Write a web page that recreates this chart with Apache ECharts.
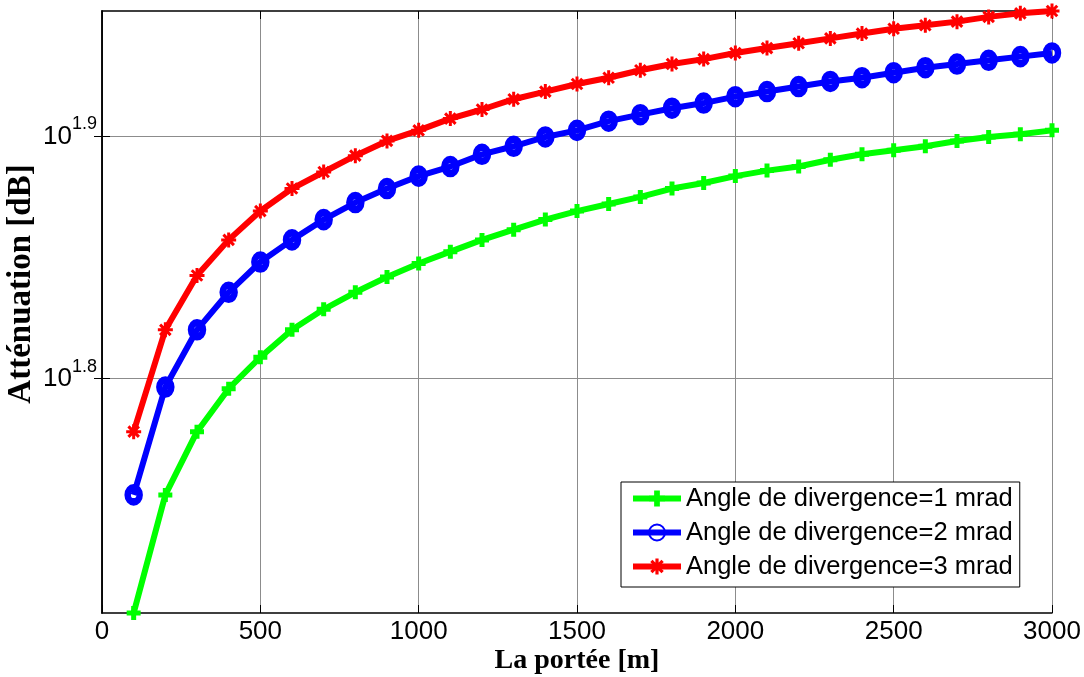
<!DOCTYPE html>
<html>
<head>
<meta charset="utf-8">
<script src="https://cdn.jsdelivr.net/npm/echarts@6/dist/echarts.min.js"></script>
<style>
  html, body { margin: 0; padding: 0; background: #fff; }
  #chart { width: 1084px; height: 677px; }
</style>
</head>
<body>
<div id="chart"></div>
<script>
// Distance (m)
const distances = [100,200,300,400,500,600,700,800,900,1000,1100,1200,1300,1400,1500,
                   1600,1700,1800,1900,2000,2100,2200,2300,2400,2500,2600,2700,2800,2900,3000];
// Attenuation (dB)
const att1mrad = [50.5,56.5,60.0,62.5,64.4,66.1,67.4,68.5,69.5,70.4,71.2,72.0,72.7,73.4,74.0,
                  74.5,75.0,75.6,76.0,76.5,76.9,77.2,77.7,78.1,78.4,78.7,79.1,79.4,79.6,79.9];
const att2mrad = [56.5,62.6,66.1,68.5,70.5,72.0,73.4,74.6,75.6,76.5,77.2,78.1,78.7,79.4,79.9,
                  80.6,81.1,81.6,82.0,82.5,82.9,83.3,83.7,84.0,84.4,84.8,85.1,85.4,85.7,86.0];
const att3mrad = [60.0,66.1,69.6,72.0,74.0,75.6,76.8,78.0,79.1,79.9,80.8,81.5,82.3,82.9,83.5,
                  84.0,84.6,85.1,85.5,86.0,86.4,86.8,87.2,87.6,88.0,88.3,88.6,89.0,89.3,89.5];
const seriesNames = ['Angle de divergence=1 mrad','Angle de divergence=2 mrad','Angle de divergence=3 mrad'];
// Y tick positions: exponents of 10 (log axis)
const yTickExponents = [1.8, 1.9];

const SANS = "'Liberation Sans', Arial, sans-serif";
const SERIF = "'Liberation Serif', 'Times New Roman', serif";

const toLog = arr => distances.map((d, i) => [d, Math.log10(arr[i])]);
const allVals = att1mrad.concat(att2mrad, att3mrad);
const yMin = Math.log10(Math.min.apply(null, allVals));
const yMax = Math.log10(Math.max.apply(null, allVals));

const plusPath = 'path://M-2.5,-7H2.5V-2.5H7V2.5H2.5V7H-2.5V2.5H-7V-2.5H-2.5Z';
const starPath = 'path://M-7,-1.4H7V1.4H-7Z M-1.4,-7H1.4V7H-1.4Z ' +
  'M-3.9,-5.9L5.9,3.9L3.9,5.9L-5.9,-3.9Z M-5.9,3.9L3.9,-5.9L5.9,-3.9L-3.9,5.9Z';

const axisLineStyle = { color: '#000', width: 1.5 };

const chart = echarts.init(document.getElementById('chart'), null, { renderer: 'canvas' });
chart.setOption({
  animation: false,
  backgroundColor: '#fff',
  grid: { left: 102, right: 32, top: 11, bottom: 64, containLabel: false, outerBoundsMode: 'none' },
  legend: {
    orient: 'vertical',
    left: 621, top: 482,
    backgroundColor: '#fff',
    borderColor: '#000',
    borderWidth: 1,
    borderRadius: 0,
    padding: [1, 7, 5, 9],
    itemGap: 3,
    itemWidth: 48,
    itemHeight: 20,
    lineStyle: { width: 6 },
    textStyle: { fontSize: 25.5, lineHeight: 31, fontFamily: SANS, color: '#000' },
    data: seriesNames
  },
  xAxis: [{
    type: 'value', min: 0, max: 3000, interval: 500,
    axisLine: { show: true, lineStyle: axisLineStyle },
    axisTick: { show: true, inside: true, length: 8, lineStyle: { color: '#000' } },
    axisLabel: { fontSize: 26, fontFamily: SANS, color: '#000', margin: 6, formatter: v => String(v) },
    splitLine: { show: true, lineStyle: { color: '#8c8c8c', width: 1 } },
    name: 'La portée [m]',
    nameLocation: 'middle',
    nameGap: 34,
    nameMoveOverlap: false,
    nameTextStyle: { fontSize: 28, fontFamily: SERIF, fontWeight: 'bold', color: '#000' }
  }, {
    type: 'value', min: 0, max: 3000, interval: 500, position: 'top',
    axisLine: { show: true, lineStyle: axisLineStyle },
    axisTick: { show: true, inside: true, length: 8, lineStyle: { color: '#000' } },
    axisLabel: { show: false },
    splitLine: { show: false }
  }],
  yAxis: [{
    type: 'value', min: yMin, max: yMax,
    axisLine: { show: true, lineStyle: axisLineStyle },
    axisTick: { show: true, inside: true, length: 8, customValues: yTickExponents, lineStyle: { color: '#000' } },
    axisLabel: {
      customValues: yTickExponents,
      margin: 5,
      color: '#000',
      formatter: v => '{b|10}{s|' + Number(v).toFixed(1) + '}',
      rich: {
        b: { fontSize: 26, fontFamily: SANS, color: '#000', lineHeight: 42 },
        s: { fontSize: 18, fontFamily: SANS, color: '#000', lineHeight: 18, verticalAlign: 'top' }
      }
    },
    splitLine: { show: true, lineStyle: { color: '#8c8c8c', width: 1 } },
    name: 'Atténuation [dB]',
    nameLocation: 'middle',
    nameGap: 64,
    nameMoveOverlap: false,
    nameTextStyle: { fontSize: 33, fontFamily: SERIF, fontWeight: 'bold', color: '#000', padding: [0, 0, 0, 56] }
  }, {
    type: 'value', min: yMin, max: yMax, position: 'right',
    axisLine: { show: true, lineStyle: axisLineStyle },
    axisTick: { show: true, inside: true, length: 8, customValues: yTickExponents, lineStyle: { color: '#000' } },
    axisLabel: { show: false },
    splitLine: { show: false }
  }],
  series: [{
    name: seriesNames[0], type: 'line', data: toLog(att1mrad),
    symbol: plusPath, symbolSize: 14, showAllSymbol: true,
    lineStyle: { color: '#00ff00', width: 6 },
    itemStyle: { color: '#00ff00' }
  }, {
    name: seriesNames[1], type: 'line', data: toLog(att2mrad),
    symbol: 'circle', symbolSize: [12, 14], showAllSymbol: true,
    lineStyle: { color: '#0000ff', width: 6 },
    itemStyle: { color: 'rgba(0,0,255,0)', borderColor: '#0000ff', borderWidth: 7 }
  }, {
    name: seriesNames[2], type: 'line', data: toLog(att3mrad),
    symbol: starPath, symbolSize: 15, showAllSymbol: true,
    lineStyle: { color: '#ff0000', width: 6 },
    itemStyle: { color: '#ff0000' }
  }]
});
</script>
</body>
</html>
